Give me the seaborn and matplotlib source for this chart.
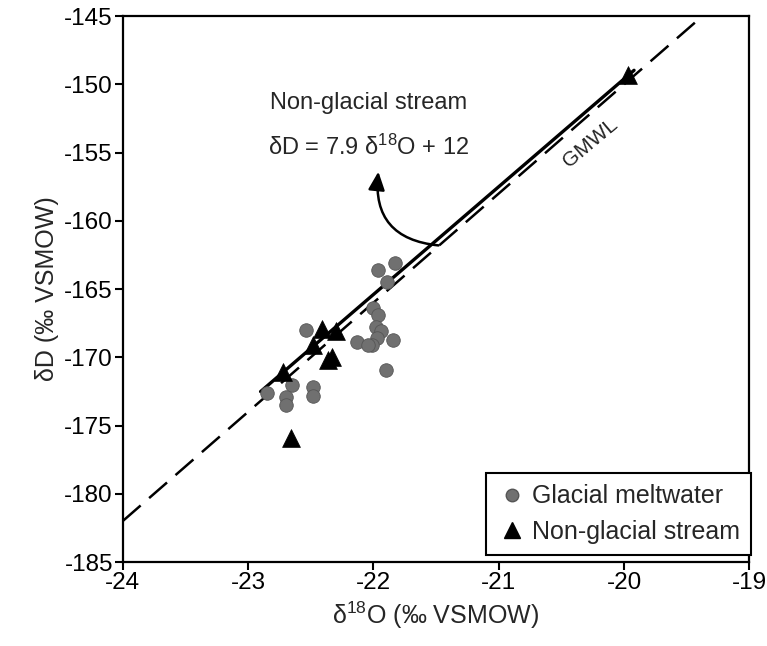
import numpy as np
import pandas as pd
import matplotlib
matplotlib.use("Agg")
import matplotlib.pyplot as plt
import seaborn as sns
from matplotlib.lines import Line2D

# ---- data ----
glacial_d18O = [-21.83, -21.96, -21.89, -22.00, -21.96, -21.98, -21.94, -21.97, -22.01,
                -22.13, -22.04, -21.84, -21.90, -22.54, -22.65, -22.85, -22.70, -22.70,
                -22.48, -22.48]
glacial_dD = [-163.1, -163.6, -164.5, -166.4, -166.9, -167.8, -168.1, -168.6, -169.1,
              -168.9, -169.1, -168.7, -170.9, -168.0, -172.0, -172.6, -172.9, -173.5,
              -172.2, -172.8]

stream_d18O = [-22.41, -22.30, -22.48, -22.33, -22.36, -22.72, -22.66, -19.97]
stream_dD = [-167.9, -168.1, -169.1, -170.0, -170.2, -171.1, -175.9, -149.3]

# regression line as drawn (slope, intercept, x-range)
fit_slope, fit_intercept = 7.9, 8.4
fit_xrange = [-22.9, -19.92]
# Global meteoric water line
gmwl_slope, gmwl_intercept = 8.0, 10.0

x_ticks = [-24, -23, -22, -21, -20, -19]
y_ticks = [-185, -180, -175, -170, -165, -160, -155, -150, -145]

sns.set_style("ticks")
plt.rcParams['font.family'] = ['Liberation Sans', 'DejaVu Sans']
plt.rcParams['mathtext.fontset'] = 'custom'
plt.rcParams['mathtext.rm'] = 'Liberation Sans'
plt.rcParams['mathtext.it'] = 'Liberation Sans'

fig = plt.figure(figsize=(7.67, 6.46), dpi=100)
ax = fig.add_axes([0.160, 0.130, 0.817, 0.845])

# GMWL dashed
gx = np.linspace(-24, (-145 - gmwl_intercept) / gmwl_slope, 50)
sns.lineplot(x=gx, y=gmwl_slope * gx + gmwl_intercept, ax=ax, color='black',
             lw=1.8, legend=False)
ax.lines[-1].set_dashes((9.5, 4.5))

# fitted solid line
fx = np.linspace(fit_xrange[0], fit_xrange[1], 50)
sns.lineplot(x=fx, y=fit_slope * fx + fit_intercept, ax=ax, color='black',
             lw=2.4, legend=False)

df_g = pd.DataFrame({'d18O': glacial_d18O, 'dD': glacial_dD})
df_s = pd.DataFrame({'d18O': stream_d18O, 'dD': stream_dD})
sns.scatterplot(data=df_g, x='d18O', y='dD', ax=ax, marker='o', s=95,
                color='#707070', edgecolor='#555555', linewidth=0.6, zorder=3)
sns.scatterplot(data=df_s, x='d18O', y='dD', ax=ax, marker='^', s=165,
                color='black', edgecolor='black', linewidth=0.5, zorder=4)

ax.set_xlim(-24, -19)
ax.set_ylim(-185, -145)
ax.set_xticks(x_ticks)
ax.set_yticks(y_ticks)
ax.set_xticklabels([str(v) for v in x_ticks])
ax.set_yticklabels([str(v) for v in y_ticks])
ax.tick_params(axis='both', direction='out', length=6, width=1.5, labelsize=17.5,
               color='black', labelcolor='black', pad=1)
for sp in ax.spines.values():
    sp.set_visible(True)
    sp.set_linewidth(1.6)
    sp.set_color('black')

ax.set_xlabel('δ$^{18}$O (‰ VSMOW)', fontsize=18, labelpad=4)
ax.set_ylabel('δD (‰ VSMOW)', fontsize=18, labelpad=4)

# annotation text
ax.text(-22.04, -151.4, 'Non-glacial stream', fontsize=17, ha='center', va='center')
ax.text(-22.04, -154.6, 'δD = 7.9 δ$^{18}$O + 12', fontsize=17, ha='center', va='center')
ax.text(-20.27, -154.3, 'GMWL', fontsize=15, ha='center', va='center', rotation=40)

ax.annotate('', xy=(-21.96, -156.4), xytext=(-21.48, -161.8),
            arrowprops=dict(arrowstyle='-|>,head_length=0.55,head_width=0.25',
                            connectionstyle='arc3,rad=-0.5', color='black',
                            lw=1.8, mutation_scale=20, shrinkA=0, shrinkB=0))

handles = [Line2D([], [], marker='o', ls='none', color='#707070', markeredgecolor='#555555',
                  markersize=9, label='Glacial meltwater'),
           Line2D([], [], marker='^', ls='none', color='black', markersize=12,
                  label='Non-glacial stream')]
leg = ax.legend(handles=handles, loc='lower right', bbox_to_anchor=(1.003, 0.013),
                borderaxespad=0, frameon=True, fancybox=False, fontsize=18,
                handletextpad=0.2, handlelength=1.2, labelspacing=0.45,
                borderpad=0.45)
leg.get_frame().set_edgecolor('black')
leg.get_frame().set_linewidth(1.5)
leg.get_frame().set_alpha(1)

fig.savefig('out.png', dpi=100)
